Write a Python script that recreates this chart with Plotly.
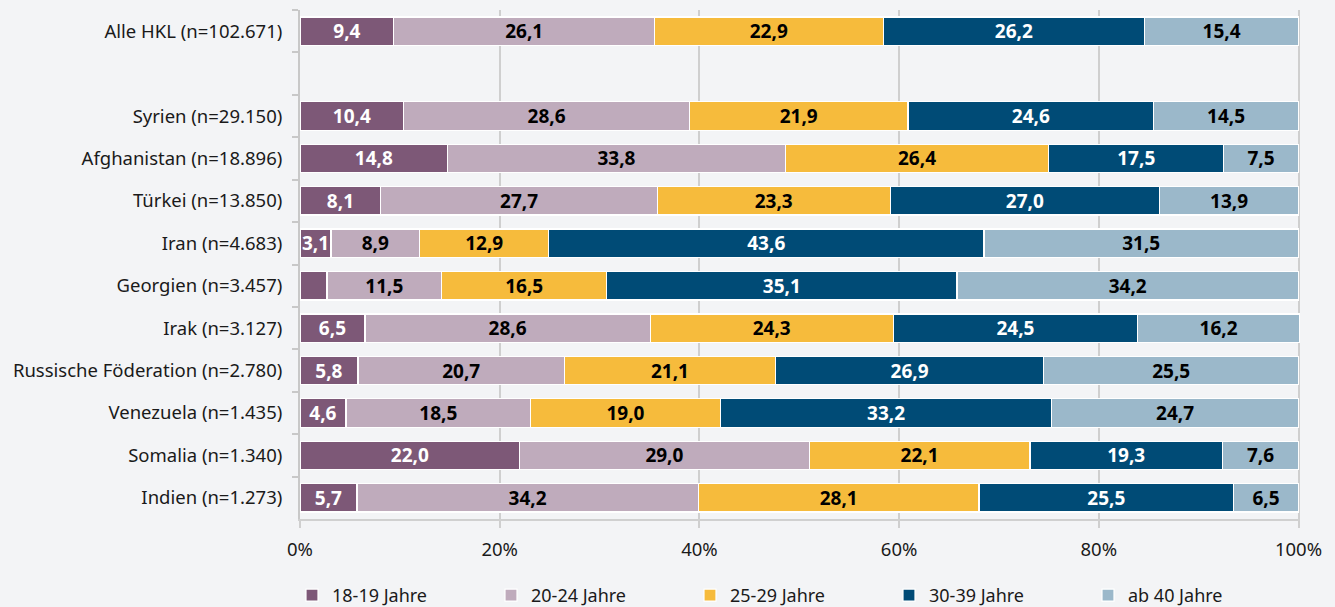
import plotly.graph_objects as go

categories = ["Alle HKL (n=102.671)", " ", "Syrien (n=29.150)", "Afghanistan (n=18.896)",
              "Türkei (n=13.850)", "Iran (n=4.683)", "Georgien (n=3.457)", "Irak (n=3.127)",
              "Russische Föderation (n=2.780)", "Venezuela (n=1.435)", "Somalia (n=1.340)",
              "Indien (n=1.273)"]

series_names = ["18-19 Jahre", "20-24 Jahre", "25-29 Jahre", "30-39 Jahre", "ab 40 Jahre"]

v_18_19 = [9.4, None, 10.4, 14.8, 8.1, 3.1, 2.7, 6.5, 5.8, 4.6, 22.0, 5.7]
v_20_24 = [26.1, None, 28.6, 33.8, 27.7, 8.9, 11.5, 28.6, 20.7, 18.5, 29.0, 34.2]
v_25_29 = [22.9, None, 21.9, 26.4, 23.3, 12.9, 16.5, 24.3, 21.1, 19.0, 22.1, 28.1]
v_30_39 = [26.2, None, 24.6, 17.5, 27.0, 43.6, 35.1, 24.5, 26.9, 33.2, 19.3, 25.5]
v_ab_40 = [15.4, None, 14.5, 7.5, 13.9, 31.5, 34.2, 16.2, 25.5, 24.7, 7.6, 6.5]

x_tick_values = [0, 20, 40, 60, 80, 100]
x_tick_labels = ["0%", "20%", "40%", "60%", "80%", "100%"]

values = [v_18_19, v_20_24, v_25_29, v_30_39, v_ab_40]
colors = ["#7d5877", "#bfabbc", "#f6bb3c", "#004b76", "#9bb8ca"]
text_colors = ["white", "black", "black", "white", "black"]

BG = "#f3f4f6"
FONT = "Noto Sans"

fig = go.Figure()
for name, vals, col, tcol in zip(series_names, values, colors, text_colors):
    labels = [("" if (v is None or v < 3) else f"{v:.1f}".replace(".", ",")) for v in vals]
    fig.add_trace(go.Bar(
        y=categories, x=vals, name=name, orientation="h",
        marker=dict(color=col, line=dict(color="white", width=1.2)),
        text=labels, textposition="inside", insidetextanchor="middle",
        textfont=dict(family=FONT, size=19, color=tcol, weight="bold"),
        hoverinfo="skip", cliponaxis=False,
    ))

fig.update_layout(
    barmode="stack", bargap=0.33,
    width=1335, height=607,
    paper_bgcolor=BG, plot_bgcolor=BG,
    margin=dict(l=300, r=35, t=10, b=88, autoexpand=False),
    font=dict(family=FONT, size=18.5, color="#1a1a1a"),
    showlegend=True,
    legend=dict(orientation="h", traceorder="normal", x=-0.008, xanchor="left",
                y=-0.15, yanchor="middle",
                entrywidth=154, entrywidthmode="pixels",
                font=dict(size=18), bgcolor="rgba(0,0,0,0)"),
    uniformtext=dict(minsize=19, mode="show"),
)
fig.update_xaxes(range=[0, 100.15], tickvals=x_tick_values, ticktext=x_tick_labels,
                 showgrid=True, gridcolor="#cfcfcf", gridwidth=1.5,
                 ticks="outside", ticklen=7, tickcolor="#cfcfcf", tickwidth=1.5,
                 showline=True, linecolor="#d0d0d0", linewidth=1.5,
                 zeroline=False, tickfont=dict(size=18.5), ticklabelstandoff=6,
                 automargin=False)
fig.update_yaxes(categoryorder="array", categoryarray=categories, autorange="reversed",
                 type="category", tickson="boundaries", ticks="outside", ticklen=6,
                 tickcolor="#c8c8c8", tickwidth=1.5,
                 showline=True, linecolor="#c8c8c8", linewidth=2,
                 showgrid=False, tickfont=dict(size=18.5), ticklabelstandoff=12,
                 automargin=False)

fig.write_html(
    "out.html",
    config={"displayModeBar": False},
    post_script="document.body.style.margin='0';document.body.style.background='#f3f4f6';",
)
